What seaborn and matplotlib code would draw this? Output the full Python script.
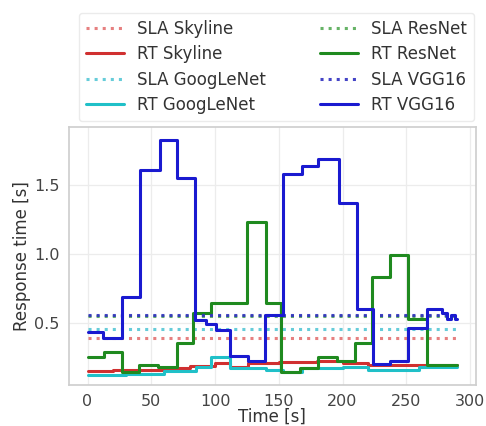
import matplotlib
matplotlib.use("Agg")
import matplotlib.pyplot as plt
import seaborn as sns
import pandas as pd

# ---- data (change points, value holds until next point) ----
t_vgg = [0, 12, 27, 41, 57, 70, 84, 93, 101, 112, 126, 139, 153, 168, 181, 197, 211, 224, 237, 251, 266, 278, 282, 285, 288, 290]
rt_vgg = [0.43, 0.39, 0.69, 1.61, 1.83, 1.55, 0.52, 0.49, 0.45, 0.26, 0.22, 0.56, 1.58, 1.64, 1.69, 1.37, 0.60, 0.20, 0.22, 0.46, 0.60, 0.57, 0.53, 0.56, 0.53, 0.53]

t_res = [0, 13, 27, 40, 55, 70, 83, 97, 125, 140, 152, 167, 181, 196, 210, 223, 237, 251, 266, 290]
rt_res = [0.25, 0.29, 0.145, 0.19, 0.18, 0.35, 0.57, 0.645, 1.23, 0.645, 0.145, 0.17, 0.25, 0.22, 0.35, 0.83, 0.99, 0.53, 0.19, 0.19]

t_sky = [0, 20, 40, 60, 80, 100, 112, 126, 150, 180, 200, 220, 290]
rt_sky = [0.15, 0.155, 0.16, 0.17, 0.185, 0.21, 0.18, 0.21, 0.215, 0.22, 0.21, 0.19, 0.19]

t_goo = [0, 30, 60, 85, 97, 112, 140, 153, 168, 200, 220, 240, 260, 290]
rt_goo = [0.12, 0.13, 0.15, 0.18, 0.25, 0.17, 0.16, 0.14, 0.17, 0.18, 0.16, 0.16, 0.18, 0.18]

sla_t = [0, 290]
sla_sky = 0.39
sla_goo = 0.455
sla_res = 0.55
sla_vgg = 0.56

sns.set_theme(style="whitegrid", rc={
    "grid.color": "#ececec", "grid.linewidth": 0.9,
    "axes.edgecolor": "#cfcfcf", "text.color": "#333333",
    "xtick.color": "#444444", "ytick.color": "#444444",
    "axes.labelcolor": "#333333"})
plt.rcParams['font.family'] = ['DejaVu Sans']

fig = plt.figure(figsize=(4.86, 4.26), dpi=100)
ax = fig.add_axes([0.142, 0.097, 0.837, 0.604])

series = [
    ("SLA Skyline", sla_t, [sla_sky, sla_sky], "#e06060", ":", 0.8),
    ("RT Skyline", t_sky, rt_sky, "#d03030", "-", 1.0),
    ("SLA GoogLeNet", sla_t, [sla_goo, sla_goo], "#40c0d0", ":", 0.8),
    ("RT GoogLeNet", t_goo, rt_goo, "#20c0c8", "-", 1.0),
    ("SLA ResNet", sla_t, [sla_res, sla_res], "#40a040", ":", 0.8),
    ("RT ResNet", t_res, rt_res, "#1f8a1f", "-", 1.0),
    ("SLA VGG16", sla_t, [sla_vgg, sla_vgg], "#3030c0", ":", 0.9),
    ("RT VGG16", t_vgg, rt_vgg, "#1a1ad0", "-", 1.0),
]

for name, t, v, col, ls, a in series:
    df = pd.DataFrame({"t": t, "v": v})
    kw = dict(drawstyle="steps-post") if ls == "-" else {}
    sns.lineplot(data=df, x="t", y="v", ax=ax, color=col, linestyle=ls,
                 linewidth=2.2, alpha=a, label=name, **kw)

ax.set_xticks([0, 50, 100, 150, 200, 250, 300])
ax.set_yticks([0.5, 1.0, 1.5])
ax.set_xlim(-14.5, 304.5)
ax.set_ylim(0.05, 1.92)
ax.tick_params(labelsize=11.5, pad=1)
ax.set_xlabel("Time [s]", fontsize=12, labelpad=-1)
ax.set_ylabel("Response time [s]", fontsize=12, labelpad=2)

leg = ax.legend(loc="lower center", bbox_to_anchor=(0.51, 1.025), ncol=2,
                fontsize=12, frameon=True, columnspacing=3.2,
                handlelength=2.3, borderaxespad=0, labelspacing=0.45)
leg.get_frame().set_edgecolor("#e6e6e6")

fig.savefig("out.png", dpi=100)
